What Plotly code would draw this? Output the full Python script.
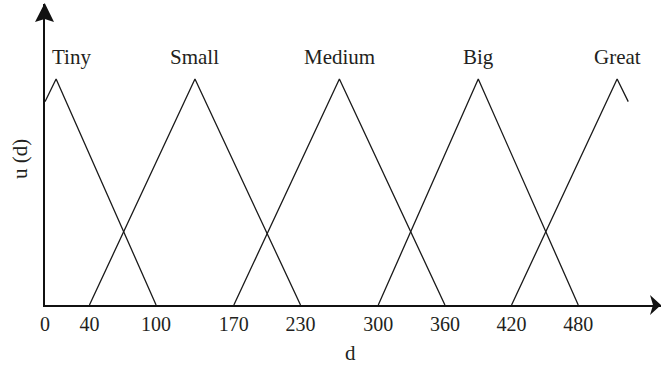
import plotly.graph_objects as go

# ---- data ----
terms = ["Tiny", "Small", "Medium", "Big", "Great"]
tiny_d = [0, 10, 100]
tiny_u = [0.9, 1, 0]
small_d = [40, 135, 230]
small_u = [0, 1, 0]
medium_d = [170, 265, 360]
medium_u = [0, 1, 0]
big_d = [300, 390, 480]
big_u = [0, 1, 0]
great_d = [420, 515, 525]
great_u = [0, 1, 0.9]
peaks = [10, 135, 265, 390, 515]
tick_vals = [0, 40, 100, 170, 230, 300, 360, 420, 480]
tick_text = ["0", "40", "100", "170", "230", "300", "360", "420", "480"]

W, H = 661, 366
L, R, T, B = 45, 0, 4, 61
XMAX = 554.5
YMAX = 1.332
FONT = "Liberation Serif"
TXT = "#231f20"

def px(xp):
    return (xp - L) / (W - L - R)

def py(yp):
    return (H - B - yp) / (H - B - T)

fig = go.Figure()
for name, d, u in [("Tiny", tiny_d, tiny_u), ("Small", small_d, small_u),
                   ("Medium", medium_d, medium_u), ("Big", big_d, big_u),
                   ("Great", great_d, great_u)]:
    fig.add_trace(go.Scatter(x=d, y=u, mode="lines", name=name,
                             line=dict(color="#1a1a1a", width=1.3),
                             showlegend=False, hoverinfo="skip"))

annotations = []
for i, (t, p) in enumerate(zip(terms, peaks)):
    annotations.append(dict(x=p, y=1, xref="x", yref="y", text=t, showarrow=False,
                            xshift=15 if i == 0 else 0, yshift=22, yanchor="middle",
                            font=dict(family=FONT, size=21, color=TXT)))
annotations.append(dict(x=px(350), y=py(353), xref="paper", yref="paper", text="d",
                        showarrow=False, xanchor="center", yanchor="middle",
                        font=dict(family=FONT, size=21, color=TXT)))
annotations.append(dict(x=px(20), y=py(159), xref="paper", yref="paper", text="u (d)",
                        showarrow=False, textangle=-90, xanchor="center", yanchor="middle",
                        font=dict(family=FONT, size=21, color=TXT)))

shapes = [
    dict(type="path", xref="paper", yref="paper", fillcolor="#111", line=dict(width=0),
         path=f"M {px(661)} {py(305)} L {px(650)} {py(295)} L {px(653)} {py(305)} L {px(650)} {py(315)} Z"),
    dict(type="path", xref="paper", yref="paper", fillcolor="#111", line=dict(width=0),
         path=f"M {px(44.7)} {py(3)} L {px(35)} {py(22)} L {px(44.7)} {py(19)} L {px(54)} {py(22)} Z"),
]

fig.update_layout(
    width=W, height=H,
    margin=dict(l=L, r=R, t=T, b=B),
    paper_bgcolor="white", plot_bgcolor="white",
    annotations=annotations, shapes=shapes,
    xaxis=dict(range=[0, XMAX], showgrid=False, zeroline=False, showline=True,
               linecolor="#111", linewidth=1.5, tickmode="array",
               tickvals=tick_vals, ticktext=tick_text, ticks="",
               tickfont=dict(family=FONT, size=20, color=TXT)),
    yaxis=dict(range=[0, YMAX], showgrid=False, zeroline=False, showline=True,
               linecolor="#111", linewidth=1.5, showticklabels=False, ticks=""),
)

fig.write_html("out.html", config={"displayModeBar": False},
               post_script="document.body.style.margin='0';document.body.style.overflow='hidden';")
